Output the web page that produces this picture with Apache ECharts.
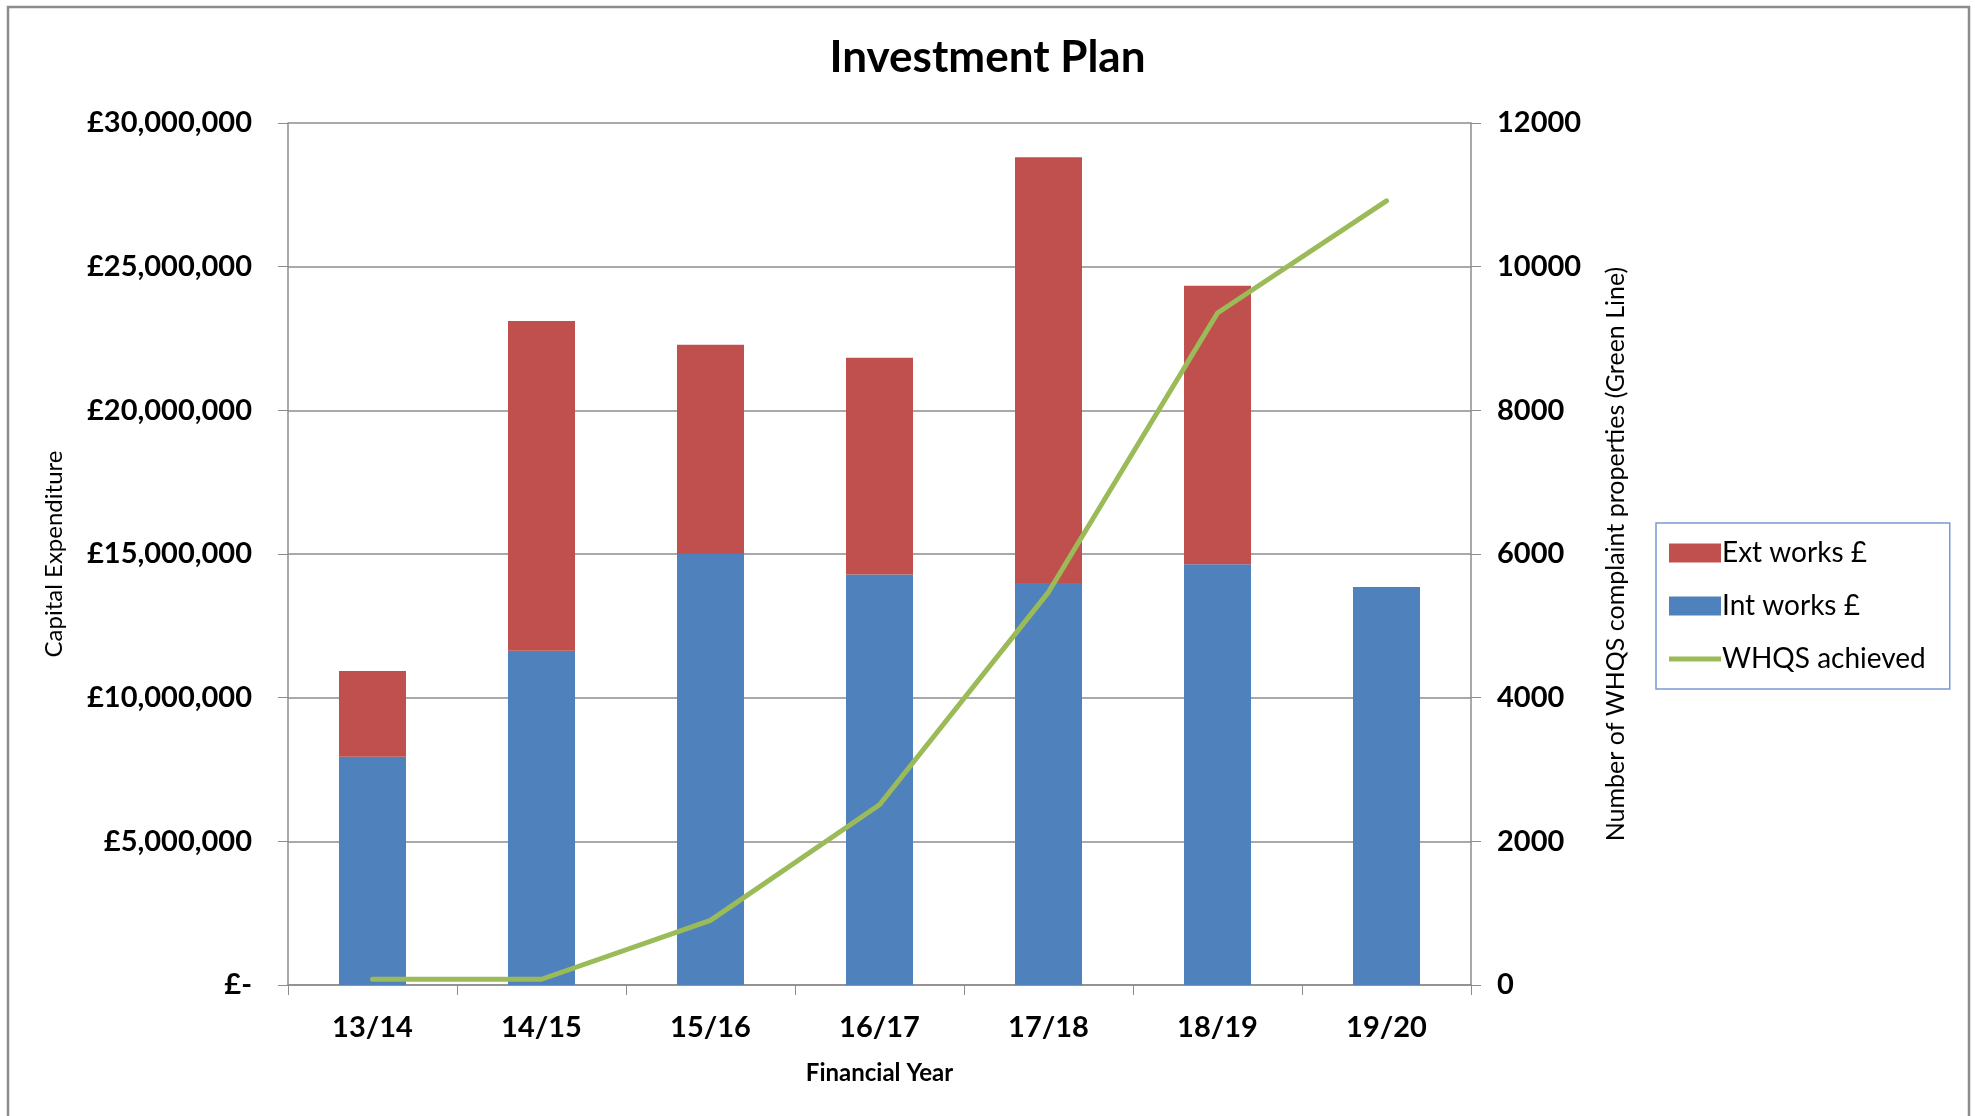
<!DOCTYPE html>
<html>
<head>
<meta charset="utf-8">
<script src="https://cdn.jsdelivr.net/npm/echarts@6/dist/echarts.min.js"></script>
<style>
html,body{margin:0;padding:0;background:#fff;}
#chart{width:1975px;height:1116px;}
</style>
</head>
<body>
<div id="chart"></div>
<script>
const categories = ['13/14', '14/15', '15/16', '16/17', '17/18', '18/19', '19/20'];
const intWorks = [7940000, 11630000, 15000000, 14290000, 13990000, 14640000, 13850000];
const extWorks = [2990000, 11480000, 7280000, 7540000, 14820000, 9700000, 0];
const whqsAchieved = [80, 80, 900, 2510, 5470, 9355, 10915];
const leftTicks = [0, 5000000, 10000000, 15000000, 20000000, 25000000, 30000000];
const rightTicks = [0, 2000, 4000, 6000, 8000, 10000, 12000];

const FONT = 'Lato, "Open Sans", sans-serif';
const chart = echarts.init(document.getElementById('chart'));

function money(v) {
  if (v === 0) return '£-';
  return '£' + v.toLocaleString('en-GB');
}

chart.setOption({
  animation: false,
  backgroundColor: '#fff',
  title: {
    text: 'Investment Plan',
    left: 'center',
    top: 31,
    textStyle: { fontFamily: FONT, fontSize: 44, fontWeight: 'bold', color: '#000' }
  },
  graphic: [{
    type: 'rect',
    shape: { x: 8, y: 7, width: 1961, height: 1130 },
    style: { fill: 'none', stroke: '#8c8c8c', lineWidth: 2.5 },
    silent: true
  }],
  legend: {
    orient: 'vertical',
    left: 1656,
    top: 523,
    width: 295,
    padding: [16, 24, 16, 13],
    itemGap: 25,
    itemWidth: 52,
    itemHeight: 19,
    borderColor: '#7b9bd1',
    borderWidth: 1.5,
    textStyle: { fontFamily: FONT, fontSize: 28, color: '#000', padding: [0, 0, 0, -4] },
    data: [
      { name: 'Ext works £', icon: 'rect' },
      { name: 'Int works £', icon: 'rect' },
      { name: 'WHQS achieved', icon: 'path://M0,0 L52,0 L52,5 L0,5 Z', itemStyle: { color: '#9bbb59' } }
    ]
  },
  grid: { left: 288, right: 504, top: 123, bottom: 131 },
  xAxis: {
    type: 'category',
    data: categories,
    name: 'Financial Year',
    nameLocation: 'middle',
    nameGap: 76,
    nameTextStyle: { fontFamily: FONT, fontSize: 24, fontWeight: 'bold', color: '#000' },
    axisLine: { lineStyle: { color: '#8c8c8c', width: 1.5 } },
    axisTick: { show: true, alignWithLabel: false, length: 10, lineStyle: { color: '#8c8c8c' } },
    axisLabel: { fontFamily: FONT, fontSize: 29, fontWeight: 'bold', color: '#000', margin: 28 }
  },
  yAxis: [{
    type: 'value',
    min: 0, max: 30000000, interval: 5000000,
    name: 'Capital Expenditure',
    nameLocation: 'middle',
    nameGap: 222,
    nameRotate: 90,
    nameTextStyle: { fontFamily: FONT, fontSize: 24, color: '#000' },
    axisLine: { show: true, lineStyle: { color: '#8c8c8c', width: 1.5 } },
    axisTick: { show: true, length: 10, lineStyle: { color: '#8c8c8c' } },
    splitLine: { show: true, lineStyle: { color: '#8c8c8c', width: 1.5 } },
    axisLabel: { fontFamily: FONT, fontSize: 29, fontWeight: 'bold', color: '#000', margin: 36,
      formatter: money }
  }, {
    type: 'value',
    position: 'right',
    min: 0, max: 12000, interval: 2000,
    name: 'Number of WHQS complaint properties (Green Line)',
    nameLocation: 'middle',
    nameGap: 132,
    nameRotate: 90,
    nameTextStyle: { fontFamily: FONT, fontSize: 25, color: '#000' },
    axisLine: { show: true, lineStyle: { color: '#8c8c8c', width: 1.5 } },
    axisTick: { show: true, length: 10, lineStyle: { color: '#8c8c8c' } },
    splitLine: { show: false },
    axisLabel: { fontFamily: FONT, fontSize: 29, fontWeight: 'bold', color: '#000', margin: 26,
      formatter: function (v) { return String(v); } }
  }],
  series: [{
    name: 'Int works £',
    type: 'bar',
    stack: 'cost',
    data: intWorks,
    barWidth: 67,
    itemStyle: { color: '#4f81bd' }
  }, {
    name: 'Ext works £',
    type: 'bar',
    stack: 'cost',
    data: extWorks,
    barWidth: 67,
    itemStyle: { color: '#c0504d' }
  }, {
    name: 'WHQS achieved',
    type: 'line',
    yAxisIndex: 1,
    data: whqsAchieved,
    symbol: 'none',
    lineStyle: { color: '#9bbb59', width: 5, cap: 'round' },
    itemStyle: { color: '#9bbb59' },
    z: 5
  }]
});
</script>
</body>
</html>
